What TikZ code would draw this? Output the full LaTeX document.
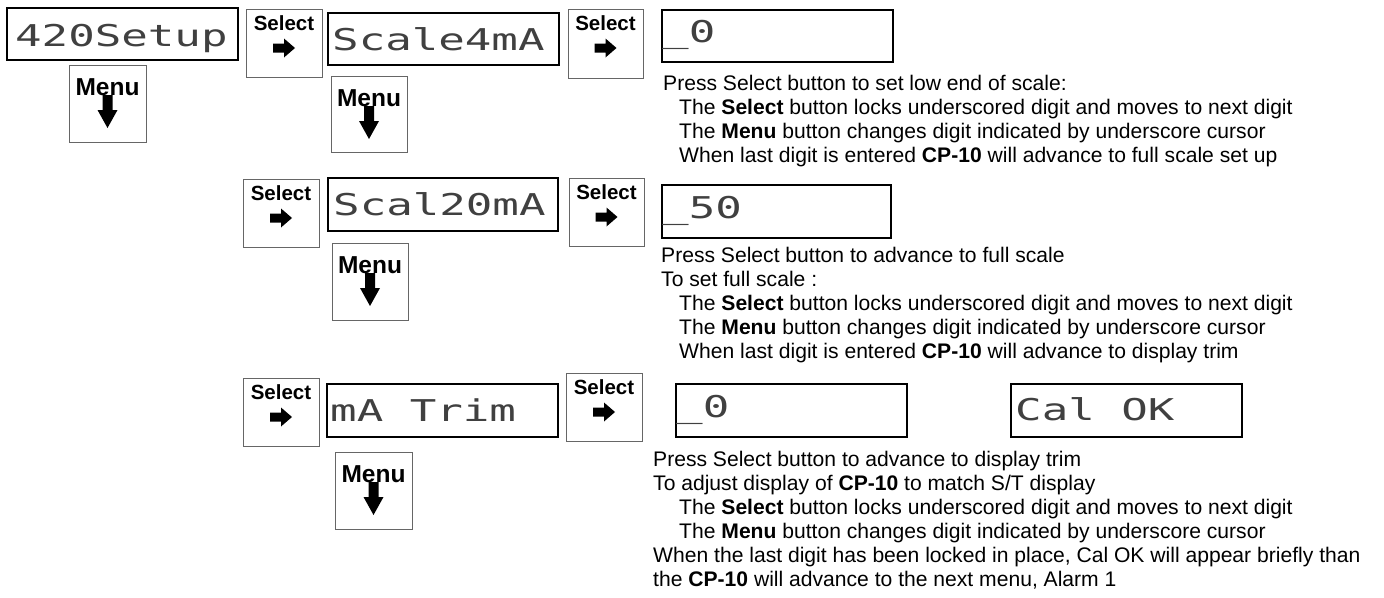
\documentclass[tikz,border=0pt]{standalone}
\usepackage{fontspec}
\setmainfont{Liberation Sans}
\newfontfamily\lcdfont[FakeStretch=1.47]{DejaVu Sans Mono}
\tikzset{
  lcd/.style={draw=black, line width=1.5pt, inner sep=0pt, anchor=north west},
  lcdtext/.style={anchor=base west, inner sep=0pt, font=\lcdfont\fontsize{30}{30}\selectfont, text=black!75},
  btn/.style={draw=black!60, line width=1pt, inner sep=0pt, anchor=north west},
  seltext/.style={anchor=base, inner sep=0pt, font=\bfseries\fontsize{20.5}{20}\selectfont},
  menutext/.style={anchor=base, inner sep=0pt, font=\bfseries\fontsize{24.5}{24}\selectfont},
  body/.style={anchor=base west, inner sep=0pt, font=\fontsize{21.1}{24}\selectfont},
}
% name, x, y, w, h
\newcommand\selbtn[5]{%
  \node[btn, minimum width=#4pt, minimum height=#5pt] (#1) at (#2,#3) {};
  \node[seltext] (#1t) at ({#2+#4/2},{#3+21}) {Select};
  \fill ({#2+#4/2-11},{#3+39-4.5}) -- ({#2+#4/2},{#3+39-4.5}) -- ({#2+#4/2},{#3+39-9.5})
    -- ({#2+#4/2+11},{#3+39}) -- ({#2+#4/2},{#3+39+9.5}) -- ({#2+#4/2},{#3+39+4.5})
    -- ({#2+#4/2-11},{#3+39+4.5}) -- cycle;
}
\newcommand\menubtn[5]{%
  \node[btn, minimum width=#4pt, minimum height=#5pt] (#1) at (#2,#3) {};
  \node[menutext] (#1t) at ({#2+#4/2},{#3+30}) {Menu};
  \fill ({#2+#4/2-5},{#3+30}) -- ({#2+#4/2+5},{#3+30}) -- ({#2+#4/2+5},{#3+45})
    -- ({#2+#4/2+10},{#3+45}) -- ({#2+#4/2},{#3+63}) -- ({#2+#4/2-10},{#3+45})
    -- ({#2+#4/2-5},{#3+45}) -- cycle;
}
% name, x, y, w, h, textx, baseline, text
\newcommand\lcdbox[8]{%
  \node[lcd, minimum width=#4pt, minimum height=#5pt] (#1) at (#2,#3) {};
  \node[lcdtext] (#1t) at (#6,#7) {#8};
}
\begin{document}
\begin{tikzpicture}[x=1pt,y=-1pt]
\useasboundingbox (0,0) rectangle (1384,597);

% row 1
\lcdbox{d1}{6}{7}{231}{52}{15}{46}{420Setup}
\menubtn{m1}{69}{65}{77}{77}
\selbtn{s1}{246}{9}{76}{68}
\lcdbox{d2}{327}{12}{231}{52}{332}{50}{Scale4mA}
\menubtn{m2}{331}{76}{76}{76}
\selbtn{s2}{568}{9}{75}{69}
\lcdbox{d3}{661}{9}{231}{52}{662}{42}{\_0}

% row 2
\selbtn{s3}{243}{179}{76}{68}
\lcdbox{d4}{327}{177}{230}{53}{333}{215}{Scal20mA}
\menubtn{m3}{332}{243}{76}{77}
\selbtn{s4}{569}{178}{75}{68}
\lcdbox{d5}{661}{184}{229}{53}{662}{218}{\_50}

% row 3
\selbtn{s5}{243}{378}{76}{68}
\lcdbox{d6}{326}{383}{231}{53}{330}{421}{mA Trim}
\menubtn{m4}{335}{452}{77}{77}
\selbtn{s6}{566}{373}{76}{68}
\lcdbox{d7}{675}{383}{231}{53}{676}{417}{\_0}
\lcdbox{d8}{1010}{383}{231}{53}{1015}{420}{Cal OK}

% text block 1
\node[body] (a1) at (663,90) {Press Select button to set low end of scale:};
\node[body] (a2) at (679,114) {The \textbf{Select} button locks underscored digit and moves to next digit};
\node[body] (a3) at (679,138) {The \textbf{Menu} button changes digit indicated by underscore cursor};
\node[body] (a4) at (679,162) {When last digit is entered \textbf{CP-10} will advance to full scale set up};

% text block 2
\node[body] (b1) at (661,262) {Press Select button to advance to full scale};
\node[body] (b2) at (661,286) {To set full scale :};
\node[body] (b3) at (679,310) {The \textbf{Select} button locks underscored digit and moves to next digit};
\node[body] (b4) at (679,334) {The \textbf{Menu} button changes digit indicated by underscore cursor};
\node[body] (b5) at (679,358) {When last digit is entered \textbf{CP-10} will advance to display trim};

% text block 3
\node[body] (c1) at (653,466) {Press Select button to advance to display trim};
\node[body] (c2) at (653,490) {To adjust display of \textbf{CP-10} to match S/T display};
\node[body] (c3) at (679,514) {The \textbf{Select} button locks underscored digit and moves to next digit};
\node[body] (c4) at (679,538) {The \textbf{Menu} button changes digit indicated by underscore cursor};
\node[body] (c5) at (653,562) {When the last digit has been locked in place, Cal OK will appear briefly than};
\node[body] (c6) at (653,586) {the \textbf{CP-10} will advance to the next menu, Alarm 1};
\end{tikzpicture}
\end{document}
